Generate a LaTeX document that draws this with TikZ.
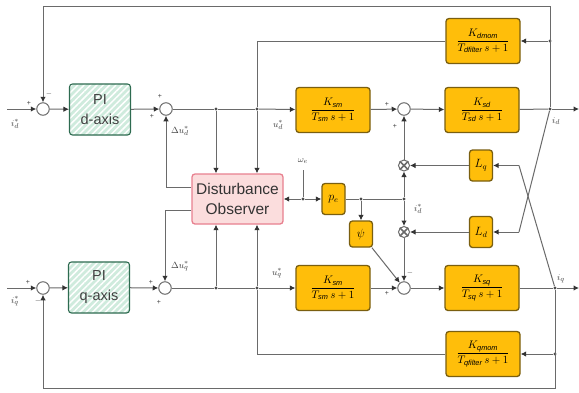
\documentclass[tikz,border=0pt]{standalone}
\usepackage{amsmath}
\usepackage{fontspec}
\setmainfont{Liberation Sans}
\usetikzlibrary{arrows.meta,patterns.meta,calc}
\definecolor{amber}{HTML}{FFBE0A}
\definecolor{amberedge}{HTML}{7A5F10}
\definecolor{greenedge}{HTML}{2E6B50}
\definecolor{greenfill}{HTML}{CFEBDD}
\definecolor{pinkedge}{HTML}{E8808F}
\definecolor{pinkfill}{HTML}{FBDDDD}
\definecolor{wire}{HTML}{6A6A6A}
\tikzset{
  x=1pt,y=-1pt,
  wireline/.style={draw=wire,line width=1pt},
  arr/.style={wireline,-{Latex[length=5.5pt,width=5.5pt,black!80]}},
  tf/.style={draw=amberedge,line width=1.3pt,fill=amber,rounded corners=3pt,minimum width=74pt,minimum height=45pt,inner sep=0pt,font=\fontsize{10.5}{12}\selectfont},
  gain/.style={draw=amberedge,line width=1.3pt,fill=amber,rounded corners=3pt,minimum width=23pt,minimum height=31pt,inner sep=0pt,font=\fontsize{11.5}{13}\selectfont},
  pibox/.style={preaction={fill=greenfill},preaction={pattern={Lines[angle=45,distance=4.5pt,line width=1.5pt]},pattern color=white},
    draw=greenedge,line width=1.1pt,rounded corners=3pt,minimum width=61pt,minimum height=51pt,align=center,inner sep=0pt,text=black!75,font=\fontsize{14.5}{20}\selectfont},
  obsbox/.style={draw=pinkedge,line width=1.3pt,rounded corners=3pt,minimum width=91pt,minimum height=50pt,align=center,inner sep=0pt,text=black!80,font=\fontsize{15.5}{19.5}\selectfont,fill=pinkfill},
  sumnode/.style={circle,draw=wire,line width=1pt,fill=white,minimum size=12.5pt,inner sep=0pt},
  mult/.style={circle,draw=wire,line width=1pt,fill=white,minimum size=11pt,inner sep=0pt},
  junction/.style={circle,fill=black!70,minimum size=3.4pt,inner sep=0pt},
  sign/.style={font=\fontsize{7}{8}\selectfont,text=black!75,inner sep=0pt},
  sig/.style={font=\fontsize{9.5}{10}\selectfont,text=black!75,inner sep=0pt},
}
\newcommand{\tffrac}[2]{$\dfrac{#1}{#2\,s+1}$}
\begin{document}
\begin{tikzpicture}
\useasboundingbox (0,0) rectangle (579,392);
\fill[white] (0,0) rectangle (579,392);
% free ends
\coordinate (ind) at (7,109);
\coordinate (inq) at (7,288);
\coordinate (outd) at (579,109);
\coordinate (outq) at (579,288);
\coordinate (tl) at (43,6.5);
\coordinate (tr) at (550,6.5);
\coordinate (bl) at (43,388);
\coordinate (br) at (555,388);
\coordinate (upl) at (257,41);
\coordinate (lol) at (257,354);
\coordinate (we) at (303,170);
\coordinate (lqk) at (519,165.5);
\coordinate (ldk) at (519,232);
\coordinate (obl1) at (166,187);
\coordinate (obl2) at (165,210);
% junctions
\node[junction] (jd) at (550,109) {};
\node[junction] (jq) at (555,288) {};
\node[junction] (ju) at (550,41) {};
\node[junction] (jl) at (555,354) {};
\node[junction] (jd1) at (216,109) {};
\node[junction] (jd2) at (257,109) {};
\node[junction] (jq1) at (216,288) {};
\node[junction] (jq2) at (257,288) {};
\node[junction] (jw) at (303,199) {};
\node[junction] (jp) at (361,199) {};
\node[junction] (jm) at (404,199) {};
% blocks
\node[pibox] (pid) at (100,109.5) {PI\\d-axis};
\node[pibox] (piq) at (99,287.5) {PI\\q-axis};
\node[obsbox] (obs) at (237.5,199) {Disturbance\\Observer};
\node[tf] (kmd) at (333,110) {\tffrac{K_{\mathit{sm}}}{T_{\mathit{sm}}}};
\node[tf] (ksd) at (482,110) {\tffrac{K_{\mathit{sd}}}{T_{\mathit{sd}}}};
\node[tf] (kmq) at (333,288) {\tffrac{K_{\mathit{sm}}}{T_{\mathit{sm}}}};
\node[tf] (ksq) at (482,288) {\tffrac{K_{\mathit{sq}}}{T_{\mathit{sq}}}};
\node[tf] (fu) at (483,41) {\tffrac{K_{\mathit{dmom}}}{T_{\mathit{dfilter}}}};
\node[tf] (fl) at (483,354) {\tffrac{K_{\mathit{qmom}}}{T_{\mathit{qfilter}}}};
\node[gain] (lq) at (481,165.5) {$L_q$};
\node[gain] (ld) at (481,232) {$L_d$};
\node[gain] (pe) at (333.5,199) {$p_e$};
\node[gain,minimum height=26pt] (psi) at (361,234) {$\psi$};
% sums
\node[sumnode] (s1) at (43,109) {};
\node[sumnode] (s2) at (166,109) {};
\node[sumnode] (s3) at (404,109) {};
\node[sumnode] (s4) at (43,288) {};
\node[sumnode] (s5) at (165,288) {};
\node[sumnode] (s6) at (404,288) {};
\node[mult] (m1) at (404,165.5) {};
\node[mult] (m2) at (404,232) {};
\foreach \m in {m1,m2}{
  \draw[wire,line width=1.5pt] (\m.north west) -- (\m.south east) (\m.north east) -- (\m.south west);
}
% d row
\draw[arr] (ind) -- (s1);
\draw[arr] (s1) -- (pid);
\draw[arr] (pid) -- (s2);
\draw[wireline] (s2) -- (jd1) -- (jd2);
\draw[arr] (jd2) -- (kmd);
\draw[arr] (kmd) -- (s3);
\draw[arr] (s3) -- (ksd);
\draw[wireline] (ksd) -- (jd);
\draw[arr] (jd) -- (outd);
% q row
\draw[arr] (inq) -- (s4);
\draw[arr] (s4) -- (piq);
\draw[arr] (piq) -- (s5);
\draw[wireline] (s5) -- (jq1) -- (jq2);
\draw[arr] (jq2) -- (kmq);
\draw[arr] (kmq) -- (s6);
\draw[arr] (s6) -- (ksq);
\draw[wireline] (ksq) -- (jq);
\draw[arr] (jq) -- (outq);
% outer feedback
\draw[wireline] (jd) -- (tr) -- (tl);
\draw[arr] (tl) -- (s1);
\draw[wireline] (jq) -- (br) -- (bl);
\draw[arr] (bl) -- (s4);
% filters
\draw[arr] (ju) -- (fu);
\draw[wireline] (fu) -- (upl) -- (jd2);
\draw[arr] (jl) -- (fl);
\draw[wireline] (fl) -- (lol) -- (jq2);
% observer
\draw[arr] (jd1) -- (jd1 |- obs.north);
\draw[arr] (jd2) -- (jd2 |- obs.north);
\draw[arr] (jq1) -- (jq1 |- obs.south);
\draw[arr] (jq2) -- (jq2 |- obs.south);
\draw[wireline] (obs.west |- obl1) -- (obl1);
\draw[arr] (obl1) -- (s2);
\draw[wireline] (obs.west |- obl2) -- (obl2);
\draw[arr] (obl2) -- (s5);
\draw[arr] (jw) -- (obs);
\draw[wireline] (we) -- (jw);
\draw[arr] (jw) -- (pe);
\draw[wireline] (pe) -- (jp) -- (jm);
\draw[arr] (jp) -- (psi);
\draw[arr] (psi) -- (s6);
% current cross-coupling
\draw[arr] (jm) -- (m1);
\draw[arr] (jm) -- (m2);
\draw[arr] (m1) -- (s3);
\draw[arr] (m2) -- (s6);
\draw[arr] (lq) -- (m1);
\draw[arr] (ld) -- (m2);
\draw[arr] (lqk) -- (lq);
\draw[arr] (ldk) -- (ld);
\draw[wireline] (jq) -- (lqk);
\draw[wireline] (jd) -- (ldk);
% signs
\node[sign] (p1) at (29,103) {+};
\node[sign] (p2) at (49,94) {$-$};
\node[sign] (p3) at (160,96) {+};
\node[sign] (p4) at (152,116) {+};
\node[sign] (p5) at (387,104) {+};
\node[sign] (p6) at (395,126) {+};
\node[sign] (p7) at (28,282) {+};
\node[sign] (p8) at (38,301) {$-$};
\node[sign] (p9) at (151,282) {+};
\node[sign] (p10) at (159,302) {+};
\node[sign] (p11) at (387,293) {+};
\node[sign] (p12) at (410,273) {$-$};
% signal labels
\node[sig] (a1) at (15,124) {$i_d^*$};
\node[sig] (a2) at (15,301) {$i_q^*$};
\node[sig] (a3) at (180,131) {$\Delta u_d^*$};
\node[sig] (a4) at (180,266) {$\Delta u_q^*$};
\node[sig] (a5) at (278,125) {$u_d^*$};
\node[sig] (a6) at (277,273) {$u_q^*$};
\node[sig] (a7) at (303,161) {$\omega_e$};
\node[sig] (a8) at (418,209) {$i_d^*$};
\node[sig] (a9) at (556,121) {$i_d$};
\node[sig] (a10) at (561,279) {$i_q$};
\end{tikzpicture}
\end{document}
